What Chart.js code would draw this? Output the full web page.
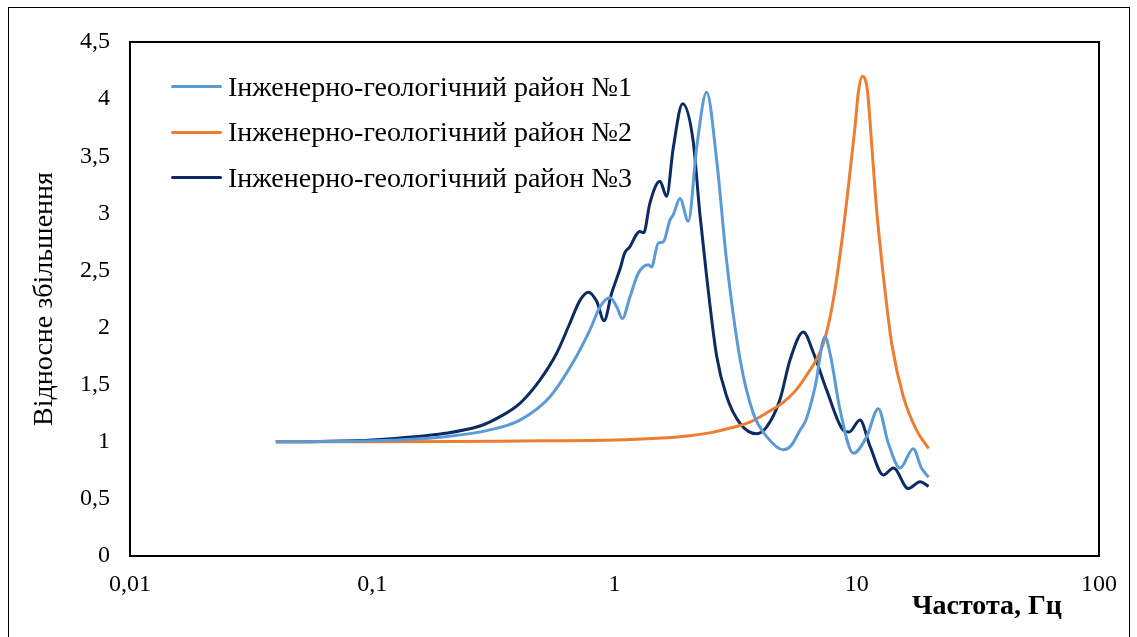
<!DOCTYPE html>
<html>
<head>
<meta charset="utf-8">
<script src="https://cdn.jsdelivr.net/npm/chart.js@4.4.0/dist/chart.umd.min.js"></script>
<style>
  body { margin: 0; background: #fff; overflow: hidden; }
  #frame { position: absolute; left: 8px; top: 7px; width: 1120px; height: 640px; border: 1px solid #000; }
  #wrap { position: absolute; left: 0; top: 0; width: 1137px; height: 637px; }
  #legend { position: absolute; left: 171px; top: 64px; font-family: "Liberation Serif", serif; font-size: 28px; color: #000; }
  #legend .item { height: 45.5px; display: flex; align-items: center; }
  #legend .swatch { width: 51px; height: 3px; border-radius: 2px; margin-right: 6px; }
</style>
</head>
<body>
<div id="frame"></div>
<div id="wrap"><canvas id="chart" width="1137" height="637"></canvas></div>
<div id="legend"></div>
<script>
// series labels and colours
var seriesNames = [
  "Інженерно-геологічний район №1",
  "Інженерно-геологічний район №2",
  "Інженерно-геологічний район №3"
];
var seriesColors = ["#5B9BD5", "#ED7D31", "#0C2A64"];

// район №1: frequency (Hz) / ratio
var freq1 = [0.04, 0.1, 0.2, 0.3, 0.407, 0.542, 0.676, 0.792, 0.871, 0.958, 1.023, 1.077, 1.159, 1.254, 1.38, 1.42, 1.517, 1.59, 1.694, 1.75, 1.864, 2.017, 2.185, 2.4, 2.64, 2.9, 3.3, 3.74, 4.25, 4.98, 5.33, 5.83, 6.17, 6.73, 7.39, 7.8, 8.53, 9.68, 10.99, 12.27, 13.49, 15.09, 17.1, 18.5, 19.8];
var amp1  = [1.0, 1.008, 1.045, 1.10, 1.19, 1.395, 1.70, 1.98, 2.18, 2.26, 2.18, 2.08, 2.27, 2.475, 2.55, 2.53, 2.74, 2.75, 2.94, 2.99, 3.13, 2.93, 3.58, 4.06, 3.47, 2.59, 1.72, 1.25, 1.045, 0.93, 0.96, 1.10, 1.19, 1.48, 1.92, 1.75, 1.28, 0.9, 1.045, 1.29, 0.99, 0.77, 0.94, 0.77, 0.69];

// район №2
var freq2 = [0.04, 0.1, 0.3, 0.5, 1, 1.5, 2, 2.5, 3, 3.6, 4.3, 5, 5.6, 6.2, 7.28, 8.0, 8.66, 9.23, 9.84, 10.14, 10.54, 11.06, 11.52, 12.08, 12.88, 13.94, 15.57, 17.67, 19.8];
var amp2  = [1.0, 1.0, 1.005, 1.008, 1.015, 1.03, 1.05, 1.08, 1.12, 1.17, 1.26, 1.35, 1.45, 1.58, 1.86, 2.24, 2.74, 3.23, 3.76, 4.05, 4.2, 4.08, 3.61, 3.03, 2.45, 1.86, 1.395, 1.10, 0.94];

// район №3
var freq3 = [0.04, 0.06, 0.1, 0.2, 0.28, 0.337, 0.407, 0.492, 0.577, 0.655, 0.721, 0.78, 0.844, 0.906, 0.973, 1.06, 1.1, 1.16, 1.22, 1.27, 1.32, 1.4, 1.54, 1.64, 1.75, 1.91, 2.11, 2.25, 2.4, 2.64, 2.9, 3.3, 3.86, 4.25, 4.82, 5.31, 6.02, 6.62, 7.52, 8.81, 9.3, 10.31, 11.35, 12.88, 14.17, 16.33, 18.25, 19.8];
var amp3  = [1.0, 1.003, 1.016, 1.074, 1.14, 1.22, 1.337, 1.54, 1.775, 2.04, 2.24, 2.31, 2.23, 2.06, 2.30, 2.53, 2.65, 2.71, 2.8, 2.84, 2.83, 3.09, 3.28, 3.15, 3.58, 3.96, 3.64, 3.0, 2.45, 1.75, 1.4, 1.16, 1.07, 1.13, 1.37, 1.72, 1.96, 1.78, 1.45, 1.1, 1.085, 1.19, 0.96, 0.71, 0.77, 0.59, 0.65, 0.61];

// axis
var xTicks = [0.01, 0.1, 1, 10, 100];
var yMin = 0, yMax = 4.5, yStep = 0.5;
var xTitle = "Частота, Гц";
var yTitle = "Відносне збільшення";

function toPoints(xs, ys) {
  var pts = [];
  for (var i = 0; i < xs.length; i++) pts.push({ x: xs[i], y: ys[i] });
  return pts;
}

var allFreq = [freq1, freq2, freq3];
var allAmp = [amp1, amp2, amp3];
var datasets = [];
for (var s = 0; s < 3; s++) {
  datasets.push({
    label: seriesNames[s],
    data: toPoints(allFreq[s], allAmp[s]),
    borderColor: seriesColors[s],
    borderWidth: 3,
    pointRadius: 0,
    cubicInterpolationMode: "monotone",
    fill: false
  });
}

var serif = "'Liberation Serif', 'Times New Roman', serif";

// box round the plot area + x title at bottom right
var boxPlugin = {
  id: "boxPlugin",
  afterDraw: function(chart) {
    var a = chart.chartArea, ctx = chart.ctx;
    ctx.save();
    ctx.strokeStyle = "#000";
    ctx.lineWidth = 2;
    ctx.strokeRect(a.left, a.top, a.right - a.left, a.bottom - a.top);
    ctx.font = "bold 28px " + serif;
    ctx.fillStyle = "#000";
    ctx.textAlign = "right";
    ctx.textBaseline = "middle";
    ctx.fillText(xTitle, a.right - 37, 607);
    ctx.restore();
  }
};

var chart = new Chart(document.getElementById("chart").getContext("2d"), {
  type: "line",
  data: { datasets: datasets },
  plugins: [boxPlugin],
  options: {
    responsive: false,
    animation: false,
    layout: { padding: { left: 0, top: 42, right: 38, bottom: 0 } },
    plugins: { legend: { display: false }, tooltip: { enabled: false } },
    scales: {
      x: {
        type: "logarithmic",
        min: 0.01,
        max: 100,
        grid: { display: false, drawTicks: false },
        border: { display: false },
        afterBuildTicks: function(scale) {
          scale.ticks = xTicks.map(function(v) { return { value: v, major: true }; });
        },
        afterFit: function(scale) { scale.height = 81; },
        ticks: {
          autoSkip: false,
          maxRotation: 0,
          padding: 14,
          color: "#000",
          font: { family: serif, size: 24 },
          callback: function(v) { return String(v).replace(".", ","); }
        }
      },
      y: {
        min: yMin,
        max: yMax,
        grid: { display: false, drawTicks: false },
        border: { display: false },
        afterFit: function(scale) { scale.width = 130; },
        ticks: {
          stepSize: yStep,
          padding: 20,
          color: "#000",
          font: { family: serif, size: 24 },
          callback: function(v) { return String(v).replace(".", ","); }
        },
        title: {
          display: true,
          text: yTitle,
          color: "#000",
          font: { family: serif, size: 28 },
          padding: { top: 28, bottom: 0 }
        }
      }
    }
  }
});

// legend
var legendBox = document.getElementById("legend");
for (var k = 0; k < seriesNames.length; k++) {
  var row = document.createElement("div");
  row.className = "item";
  var sw = document.createElement("span");
  sw.className = "swatch";
  sw.style.background = seriesColors[k];
  var tx = document.createElement("span");
  tx.textContent = seriesNames[k];
  row.appendChild(sw);
  row.appendChild(tx);
  legendBox.appendChild(row);
}
</script>
</body>
</html>
